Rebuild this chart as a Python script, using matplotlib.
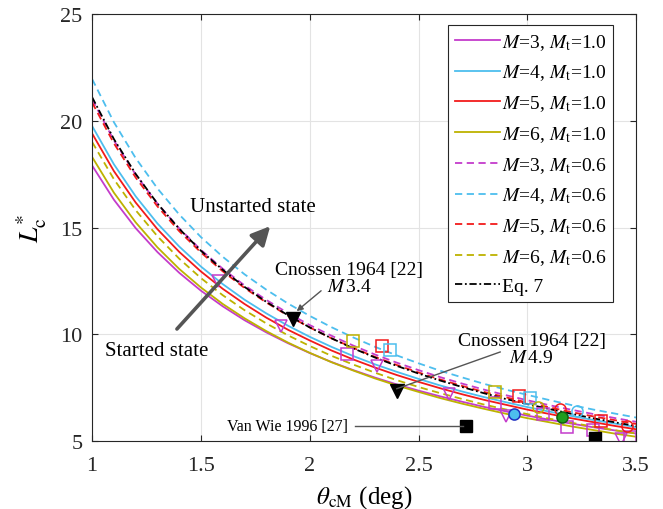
import numpy as np
import matplotlib
matplotlib.use('Agg')
import matplotlib.pyplot as plt
from matplotlib.patches import FancyArrowPatch

plt.rcParams['font.family'] = ['Liberation Serif', 'DejaVu Serif']
plt.rcParams['mathtext.fontset'] = 'stix'

# theta_cM (deg)
theta = [1.0, 1.1, 1.2, 1.3, 1.4, 1.5, 1.6, 1.7, 1.8, 1.9, 2.0, 2.1, 2.2,
         2.3, 2.4, 2.5, 2.6, 2.7, 2.8, 2.9, 3.0, 3.1, 3.2, 3.3, 3.4, 3.5]

# L*_c curves
m3_t10 = [17.90, 16.30, 14.97, 13.85, 12.88, 12.04, 11.31, 10.66, 10.09, 9.58, 9.12, 8.70, 8.32,
          7.97, 7.65, 7.36, 7.09, 6.84, 6.60, 6.39, 6.19, 6.00, 5.82, 5.65, 5.50, 5.35]
m4_t10 = [19.75, 17.96, 16.46, 15.19, 14.11, 13.17, 12.35, 11.62, 10.98, 10.40, 9.88, 9.41, 8.98,
          8.59, 8.24, 7.91, 7.60, 7.32, 7.06, 6.82, 6.59, 6.38, 6.18, 5.99, 5.82, 5.65]
m5_t10 = [19.40, 17.64, 16.17, 14.92, 13.86, 12.94, 12.13, 11.42, 10.78, 10.21, 9.71, 9.24, 8.82,
          8.44, 8.09, 7.77, 7.47, 7.19, 6.93, 6.70, 6.47, 6.27, 6.07, 5.89, 5.71, 5.55]
m6_t10 = [18.30, 16.63, 15.24, 14.07, 13.06, 12.19, 11.42, 10.75, 10.15, 9.61, 9.13, 8.69, 8.30,
          7.93, 7.60, 7.30, 7.01, 6.75, 6.51, 6.28, 6.07, 5.88, 5.69, 5.52, 5.35, 5.20]
m3_t06 = [21.00, 19.08, 17.48, 16.12, 14.96, 13.95, 13.07, 12.29, 11.61, 10.99, 10.43, 9.93, 9.47,
          9.05, 8.67, 8.32, 7.99, 7.69, 7.41, 7.15, 6.91, 6.68, 6.47, 6.27, 6.08, 5.90]
m4_t06 = [21.95, 19.93, 18.25, 16.83, 15.61, 14.55, 13.63, 12.81, 12.09, 11.44, 10.86, 10.33, 9.85,
          9.41, 9.01, 8.64, 8.29, 7.98, 7.68, 7.41, 7.16, 6.92, 6.69, 6.48, 6.29, 6.10]
m5_t06 = [20.85, 18.94, 17.34, 15.99, 14.83, 13.83, 12.95, 12.17, 11.49, 10.87, 10.32, 9.81, 9.36,
          8.94, 8.56, 8.21, 7.88, 7.58, 7.30, 7.05, 6.80, 6.58, 6.36, 6.16, 5.98, 5.80]
m6_t06 = [19.00, 17.26, 15.81, 14.59, 13.54, 12.63, 11.83, 11.13, 10.51, 9.95, 9.45, 8.99, 8.58,
          8.20, 7.85, 7.53, 7.24, 6.97, 6.71, 6.48, 6.26, 6.05, 5.86, 5.68, 5.51, 5.35]
eq7 = [21.10, 19.14, 17.51, 16.12, 14.94, 13.91, 13.02, 12.22, 11.52, 10.89, 10.32, 9.81, 9.34,
       8.91, 8.52, 8.16, 7.83, 7.53, 7.24, 6.97, 6.73, 6.50, 6.28, 6.07, 5.88, 5.70]

# scattered simulation points (theta, L*)
tri_m = ([1.58, 1.87, 2.31, 2.64, 2.90, 3.43], [12.5, 10.4, 8.5, 7.2, 6.16, 5.1])
sq_m = ([2.17, 2.85, 3.07, 3.18, 3.30, 3.47], [9.07, 6.78, 6.27, 5.64, 5.5, 5.17])
sq_o = ([2.20, 2.85], [9.7, 7.31])
sq_r = ([2.33, 2.96, 3.34], [9.43, 7.12, 5.95])
sq_c = ([2.37, 3.01], [9.28, 7.0])
ci_o = ([3.05], [6.58])
ci_r = ([3.15, 3.46], [6.5, 5.72])
ci_c = ([3.23], [6.42])
ci_b = ([2.94], [6.27])
ci_g = ([3.16], [6.11])

# experiments
cnossen = ([1.924, 2.40], [10.71, 7.36])
vanwie = ([2.72, 3.31], [5.69, 5.14])

c_m = '#C43CCB'
c_c = '#4DBEEE'
c_r = '#F21B1B'
c_o = '#BDB200'

fig = plt.figure(figsize=(6.63, 5.1), dpi=100)
ax = fig.add_axes([0.139, 0.1333, 0.8205, 0.8373])

lw = 1.3
dash = (0, (4, 2.5))
ax.plot(theta, m3_t10, color=c_m, lw=lw, label='$M$=3, $M_{\\mathrm{t}}$=1.0')
ax.plot(theta, m4_t10, color=c_c, lw=lw, label='$M$=4, $M_{\\mathrm{t}}$=1.0')
ax.plot(theta, m5_t10, color=c_r, lw=lw, label='$M$=5, $M_{\\mathrm{t}}$=1.0')
ax.plot(theta, m6_t10, color=c_o, lw=lw, label='$M$=6, $M_{\\mathrm{t}}$=1.0')
ax.plot(theta, m3_t06, color=c_m, lw=lw, ls=dash, label='$M$=3, $M_{\\mathrm{t}}$=0.6')
ax.plot(theta, m4_t06, color=c_c, lw=lw, ls=dash, label='$M$=4, $M_{\\mathrm{t}}$=0.6')
ax.plot(theta, m5_t06, color=c_r, lw=lw, ls=dash, label='$M$=5, $M_{\\mathrm{t}}$=0.6')
ax.plot(theta, m6_t06, color=c_o, lw=lw, ls=dash, label='$M$=6, $M_{\\mathrm{t}}$=0.6')
ax.plot(theta, eq7, color='k', lw=lw, ls=(0, (4, 1.5, 1, 1.5)), label='Eq. 7')

ms = 8
mk = dict(ls='none', mfc='none', mew=1.1, ms=ms)
ax.plot(*tri_m, marker='v', mec=c_m, **mk)
ax.plot(*sq_m, marker='s', mec=c_m, **mk)
ax.plot(*sq_o, marker='s', mec=c_o, **mk)
ax.plot(*sq_r, marker='s', mec=c_r, **mk)
ax.plot(*sq_c, marker='s', mec=c_c, **mk)
ax.plot(*ci_o, marker='o', mec=c_o, **mk)
ax.plot(*ci_r, marker='o', mec=c_r, **mk)
ax.plot(*ci_c, marker='o', mec=c_c, **mk)
ax.plot(*ci_b, marker='o', ls='none', mfc=c_c, mec='#2030C0', mew=1.1, ms=ms)
ax.plot(*ci_g, marker='o', ls='none', mfc='#1E9E1E', mec='#106010', mew=1.1, ms=ms)

ax.plot(*cnossen, marker='v', ls='none', color='k', ms=10)
ax.plot(*vanwie, marker='s', ls='none', color='k', ms=8.5)

# annotations
gray = '#555555'
ax.add_patch(FancyArrowPatch((1.381, 10.15), (1.827, 15.16), arrowstyle='-|>',
                             mutation_scale=28, lw=2.6, color=gray, zorder=6))
ax.text(1.45, 16.0, 'Unstarted state', fontsize=15, ha='left', va='center')
ax.text(1.06, 9.22, 'Started state', fontsize=15, ha='left', va='center')

ax.text(2.181, 12.63, 'Cnossen 1964 [22]\n$M\\,$3.4', fontsize=14, ha='center',
        va='center', linespacing=1.0)
ax.annotate('', xy=(1.93, 11.0), xytext=(2.062, 12.12),
            arrowprops=dict(arrowstyle='-|>', color=gray, lw=1.0, mutation_scale=9))

ax.text(3.02, 9.31, 'Cnossen 1964 [22]\n$M\\,$4.9', fontsize=14, ha='center',
        va='center', linespacing=1.0)
ax.plot([2.875, 2.40], [9.17, 7.45], color=gray, lw=1.0)

ax.text(2.176, 5.70, 'Van Wie 1996 [27]', fontsize=11.5, ha='right', va='center')
ax.plot([2.209, 2.705], [5.69, 5.69], color=gray, lw=1.0)

ax.set_xlim(1, 3.5)
ax.set_ylim(5, 25)
ax.set_xticks([1, 1.5, 2, 2.5, 3, 3.5])
ax.set_xticklabels(['1', '1.5', '2', '2.5', '3', '3.5'])
ax.set_yticks([5, 10, 15, 20, 25])
ax.grid(True, color='#E3E3E3', lw=0.8)
ax.set_axisbelow(True)
ax.tick_params(direction='in', length=4, width=0.8, top=True, right=True,
               labelsize=16, colors='#262626')
ax.tick_params(axis='x', pad=11)
ax.tick_params(axis='y', pad=7)
for s in ax.spines.values():
    s.set_color('#262626')
    s.set_linewidth(0.8)

ax.set_xlabel('$\\theta_{\\mathrm{cM}}$ (deg)', fontsize=18, labelpad=6)
ax.set_ylabel('$L_{\\mathrm{c}}^{*}$', fontsize=20, labelpad=8)

leg = ax.legend(loc='upper right', bbox_to_anchor=(0.958, 0.974), fontsize=14,
                frameon=True, fancybox=False, edgecolor='#262626', framealpha=1,
                handlelength=2.3, handletextpad=0.1, labelspacing=0.56,
                borderpad=0.35, borderaxespad=0)
leg.get_frame().set_linewidth(0.8)

fig.savefig('out.png', dpi=100)
